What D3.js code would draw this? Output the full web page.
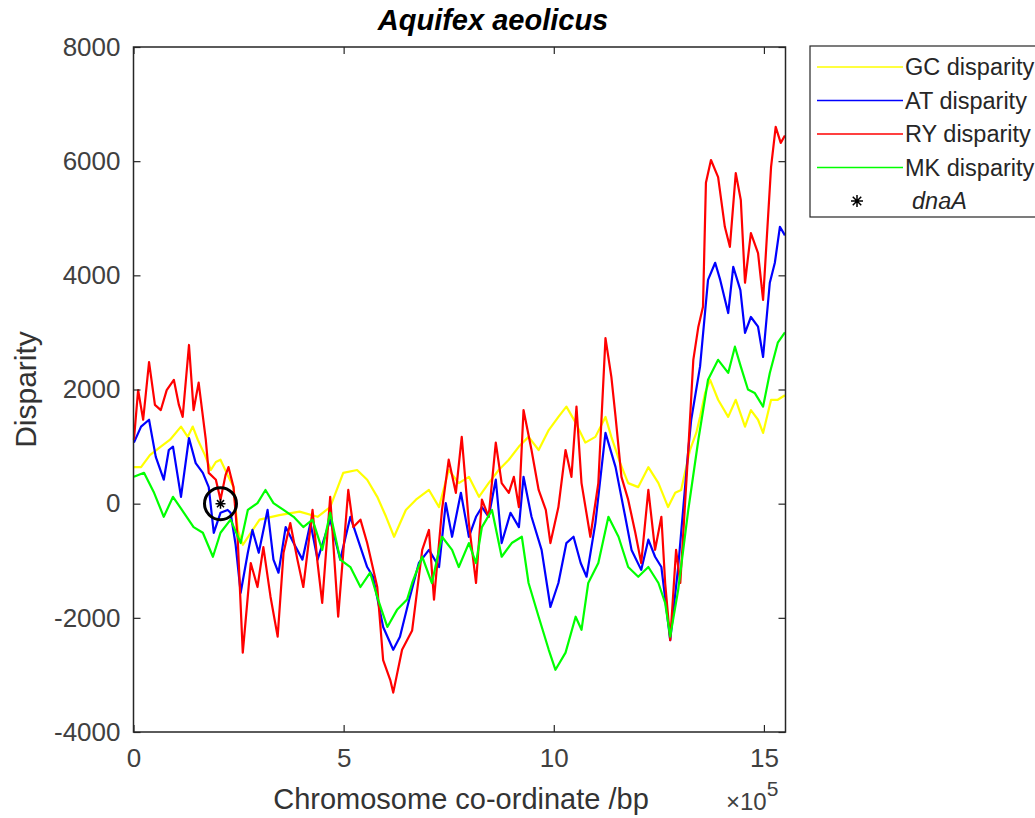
<!DOCTYPE html>
<meta charset="utf-8">
<style>
body {
    margin: 0;
    padding: 0;
    background: #fff;
}
text {
    font-family: "Liberation Sans", Arial, sans-serif;
    fill: #262626;
}
.tick line {
    stroke: #262626;
    stroke-width: 1.2px;
}
.tick text {
    font-size: 26px;
    fill: #404040;
}
</style>
<body>
<svg width="1035" height="818"></svg>

<script src="https://d3js.org/d3.v7.min.js"></script>

<script>
// x positions are in units of 10^5 bp, as on the axis
var genomeLength = 15.51335;

// GC disparity (yellow)
var gcX = [0.01, 0.18, 0.39, 0.65, 0.87, 1.13, 1.29, 1.41, 1.53, 1.70, 1.84, 1.96, 2.07, 2.24, 2.38, 2.48, 2.60,
    3.00, 3.47, 3.95, 4.38, 4.68, 4.99, 5.32, 5.56, 5.80, 6.01, 6.20, 6.48, 6.72, 7.03, 7.27, 7.50, 7.74, 7.98,
    8.22, 8.45, 8.69, 8.93, 9.17, 9.40, 9.64, 9.88, 10.11, 10.30, 10.52, 10.75, 10.99, 11.23, 11.37, 11.58,
    11.77, 12.01, 12.25, 12.49, 12.72, 12.89, 13.03, 13.24, 13.39, 13.48, 13.60, 13.72, 13.91, 14.15, 14.33,
    14.55, 14.69, 14.86, 14.98, 15.17, 15.33, 15.50];
var gcY = [640, 640, 850, 1000, 1120, 1350, 1170, 1350, 1120, 850, 590, 730, 770, 500, 290, -460, -720,
    -280, -200, -140, -230, -60, 540, 590, 420, 120, -230, -580, -110, 70, 240, -60, 590, 360, 470,
    120, 360, 590, 770, 1000, 1170, 940, 1290, 1520, 1700, 1420, 1070, 1170, 1520, 1170, 710,
    360, 290, 640, 360, -60, 190, 240, 940, 1240, 1520, 1940, 2170, 1820, 1520, 1820,
    1350, 1640, 1470, 1240, 1820, 1820, 1900];

// AT disparity (blue)
var atX = [0.01, 0.18, 0.37, 0.53, 0.72, 0.84, 0.94, 1.13, 1.32, 1.48, 1.65, 1.79, 1.91, 2.07, 2.24, 2.31, 2.43,
    2.55, 2.72, 2.83, 2.98, 3.19, 3.33, 3.45, 3.62, 3.81, 4.02, 4.21, 4.38, 4.68, 4.92, 5.16, 5.40, 5.56, 5.70,
    5.94, 6.18, 6.34, 6.56, 6.79, 7.03, 7.27, 7.43, 7.58, 7.79, 7.98, 8.15, 8.29, 8.45, 8.62, 8.76, 8.97, 9.17,
    9.28, 9.47, 9.71, 9.92, 10.11, 10.30, 10.47, 10.64, 10.78, 10.99, 11.23, 11.47, 11.70, 11.85, 12.08, 12.25,
    12.41, 12.56, 12.77, 12.96, 13.20, 13.27, 13.48, 13.67, 13.84, 13.96, 14.15, 14.27, 14.44, 14.55, 14.69,
    14.86, 14.98, 15.14, 15.26, 15.38, 15.50];
var atY = [1070, 1350, 1470, 820, 420, 940, 1000, 120, 1150, 710, 540, 290, -510, -160, -110, -160, -720,
    -1560, -860, -460, -860, -110, -980, -1210, -410, -690, -980, -340, -980, -280, -980, -230, -760, -1110, -1280,
    -2160, -2560, -2330, -1680, -1040, -810, -1110, 10, -580, 190, -580, -230, -60, -230, 420, -690, -160, -410,
    470, -230, -810, -1810, -1390, -690, -580, -1040, -1280, -340, 1240, 640, -230, -810, -1160, -630,
    -930, -1110, -2390, -1110, 940, 1470, 2400, 3920, 4220, 3920, 3340, 4150, 3740, 2990, 3270,
    3100, 2570, 3870, 4220, 4850, 4700];

// RY disparity (red)
var ryX = [0.01, 0.11, 0.23, 0.37, 0.51, 0.65, 0.79, 0.96, 1.08, 1.17, 1.32, 1.43, 1.55, 1.72, 1.79, 1.96, 2.07,
    2.19, 2.26, 2.38, 2.48, 2.60, 2.79, 2.95, 3.09, 3.26, 3.43, 3.57, 3.73, 3.90, 4.04, 4.26, 4.38, 4.49, 4.68,
    4.87, 5.11, 5.23, 5.40, 5.56, 5.80, 5.94, 6.11, 6.18, 6.39, 6.63, 6.87, 7.03, 7.15, 7.34, 7.50, 7.67, 7.81,
    7.98, 8.15, 8.29, 8.45, 8.62, 8.76, 8.93, 9.05, 9.17, 9.28, 9.47, 9.64, 9.81, 9.92, 10.11, 10.28, 10.42,
    10.54, 10.66, 10.87, 11.06, 11.23, 11.37, 11.47, 11.61, 11.77, 11.94, 12.08, 12.25, 12.41, 12.56, 12.65,
    12.77, 12.91, 13.01, 13.20, 13.32, 13.44, 13.55, 13.62, 13.74, 13.91, 14.07, 14.19, 14.33, 14.45, 14.55,
    14.69, 14.86, 14.98, 15.17, 15.28, 15.40, 15.50];
var ryY = [1120, 1990, 1470, 2480, 1730, 1640, 1990, 2170, 1730, 1520, 2780, 1640, 2120, 1120, 540, 420, 70,
    500, 640, 290, -630, -2610, -1040, -1460, -760, -1630, -2330, -860, -340, -980, -1460, -110, -1040, -1740, 120,
    -1980, 240, -410, -280, -690, -1460, -2740, -3090, -3310, -2560, -2220, -810, -460, -1680, -110, 770, 190, 1170,
    -340, -1390, 70, -230, 1070, 360, 190, 470, -60, 1640, 940, 240, -110, -690, -60, 940, 470,
    1700, 360, -580, 360, 2900, 2220, 1520, 470, 70, -510, -1040, 240, -810, -230, -1390,
    -2390, -810, -1390, 940, 2520, 3100, 3450, 5620, 6020, 5720, 4850, 4500, 5790, 5320, 3870,
    4740, 4390, 3570, 5900, 6600, 6320, 6450];

// MK disparity (green)
var mkX = [0.01, 0.25, 0.49, 0.72, 0.94, 1.20, 1.43, 1.65, 1.89, 2.07, 2.31, 2.55, 2.72, 2.95, 3.14, 3.33, 3.57,
    3.81, 4.04, 4.26, 4.49, 4.68, 4.92, 5.16, 5.40, 5.63, 5.82, 6.04, 6.27, 6.51, 6.63, 6.87, 7.10, 7.34, 7.58,
    7.74, 7.98, 8.15, 8.29, 8.53, 8.76, 9.00, 9.24, 9.40, 9.64, 9.88, 10.04, 10.28, 10.52, 10.66, 10.82, 11.06,
    11.30, 11.54, 11.77, 12.01, 12.25, 12.49, 12.65, 12.77, 12.96, 13.20, 13.44, 13.67, 13.91, 14.15, 14.31,
    14.45, 14.62, 14.78, 14.98, 15.14, 15.33, 15.50];
var mkY = [470, 540, 190, -230, 120, -160, -410, -510, -930, -510, -280, -690, -110, 10, 240, 10, -110,
    -230, -410, -280, -810, -160, -980, -1110, -1460, -1210, -1680, -2160, -1860, -1680, -1390, -930, -1390, -580, -810,
    -1110, -690, -1040, -410, -110, -930, -690, -580, -1390, -1980, -2560, -2910, -2610, -1980, -2210, -1390, -1040,
    -230, -580, -1110, -1280, -1110, -1390, -1740, -2330, -1510, -110, 1120, 2170, 2520, 2290, 2750,
    2400, 2000, 1940, 1700, 2290, 2820, 3000];

// origin gene
var dnaAX = 2.07;
var dnaAY = 0;

var xTicks = [0, 5, 10, 15];
var yTicks = [-4000, -2000, 0, 2000, 4000, 6000, 8000];

var seriesNames = ["GC disparity", "AT disparity", "RY disparity", "MK disparity"];
var seriesColors = ["#ffff00", "#0000ff", "#ff0000", "#00ff00"];
var seriesData = [[gcX, gcY], [atX, atY], [ryX, ryY], [mkX, mkY]];

var svg = d3.select("svg");

// axes box (window.top is taken, so prefixed names)
var axL = 133.5, axR = 785.5, axT = 47, axB = 732;

var x = d3.scaleLinear().domain([0, genomeLength]).range([axL, axR]);
var y = d3.scaleLinear().domain([-4000, 8000]).range([axB, axT]);

// plot lines, in legend order
var line = d3.line()
    .x(function(d) { return x(d[0]); })
    .y(function(d) { return y(d[1]); });

var plot = svg.append("g");
seriesData.forEach(function(s, i) {
    var pts = s[0].map(function(v, j) { return [v, s[1][j]]; });
    plot.append("path")
        .datum(pts)
        .attr("fill", "none")
        .attr("stroke", seriesColors[i])
        .attr("stroke-width", 2.2)
        .attr("stroke-linejoin", "round")
        .attr("d", line);
});

// asterisk marker
function asterisk(g, cx, cy, r) {
    var p = "";
    [0, 45, 90, 135].forEach(function(a) {
        var dx = r * Math.cos(a * Math.PI / 180), dy = r * Math.sin(a * Math.PI / 180);
        p += "M" + (cx - dx) + "," + (cy - dy) + "L" + (cx + dx) + "," + (cy + dy);
    });
    g.append("path").attr("d", p).attr("stroke", "#000").attr("stroke-width", 1.5).attr("fill", "none");
}
asterisk(svg, x(dnaAX), y(dnaAY), 5);

// black ring marking dnaA
svg.append("circle")
    .attr("cx", x(dnaAX))
    .attr("cy", y(dnaAY))
    .attr("r", 16)
    .attr("fill", "none")
    .attr("stroke", "#000")
    .attr("stroke-width", 3);

// axes, ticks pointing inward like matlab
var fmt = function(d) { return String(d); };

svg.append("g").attr("transform", "translate(" + axL + ",0)")
    .call(d3.axisLeft(y).tickValues(yTicks).tickSize(-7).tickPadding(13).tickFormat(fmt));
svg.append("g").attr("transform", "translate(" + axR + ",0)")
    .call(d3.axisRight(y).tickValues(yTicks).tickSize(-7).tickFormat(""));
svg.append("g").attr("transform", "translate(0," + axB + ")")
    .call(d3.axisBottom(x).tickValues(xTicks).tickSize(-7).tickPadding(17).tickFormat(fmt));
svg.append("g").attr("transform", "translate(0," + axT + ")")
    .call(d3.axisTop(x).tickValues(xTicks).tickSize(-7).tickFormat(""));

svg.selectAll(".domain").remove();

svg.append("rect")
    .attr("x", axL).attr("y", axT)
    .attr("width", axR - axL).attr("height", axB - axT)
    .attr("fill", "none")
    .attr("stroke", "#262626")
    .attr("stroke-width", 1.5);

// title and labels
svg.append("text")
    .attr("x", 493).attr("y", 30)
    .attr("text-anchor", "middle")
    .style("font-size", "29px")
    .style("font-weight", "bold")
    .style("font-style", "italic")
    .style("fill", "#000")
    .text("Aquifex aeolicus");

svg.append("text")
    .attr("transform", "translate(36," + ((axT + axB) / 2) + ") rotate(-90)")
    .attr("text-anchor", "middle")
    .style("font-size", "30px")
    .style("fill", "#333")
    .text("Disparity");

svg.append("text")
    .attr("x", 461).attr("y", 809)
    .attr("text-anchor", "middle")
    .style("font-size", "29px")
    .style("fill", "#333")
    .text("Chromosome co-ordinate /bp");

var mult = svg.append("text")
    .attr("x", 726).attr("y", 810)
    .style("font-size", "24px")
    .style("fill", "#404040");
mult.append("tspan").text("\u00d710");
mult.append("tspan").attr("dy", -14).style("font-size", "21px").text("5");

// legend
var legend = svg.append("g");
legend.append("rect")
    .attr("x", 810).attr("y", 46)
    .attr("width", 240).attr("height", 171)
    .attr("fill", "#fff")
    .attr("stroke", "#262626")
    .attr("stroke-width", 1.2);

seriesNames.forEach(function(name, i) {
    var ly = 67 + i * 33.5;
    legend.append("line")
        .attr("x1", 817).attr("x2", 903)
        .attr("y1", ly).attr("y2", ly)
        .attr("stroke", seriesColors[i])
        .attr("stroke-width", 1.5);
    legend.append("text")
        .attr("x", 905).attr("y", ly + 8)
        .style("font-size", "23.5px")
        .text(name);
});

asterisk(legend, 857, 201, 6);
legend.append("text")
    .attr("x", 912).attr("y", 209)
    .style("font-size", "23.5px")
    .style("font-style", "italic")
    .text("dnaA");
</script>
</body>
